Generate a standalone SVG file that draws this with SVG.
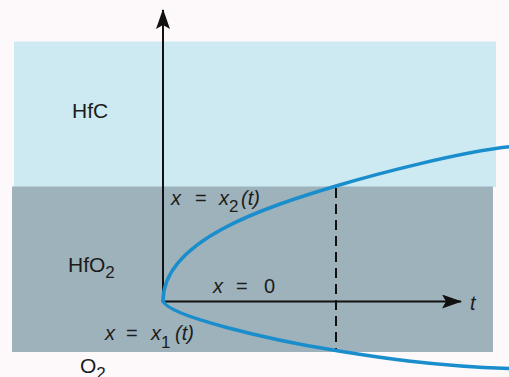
<svg xmlns="http://www.w3.org/2000/svg" width="509" height="377" viewBox="0 0 509 377">
  <style>
    .lbl { font-family: "Liberation Sans", Arial, sans-serif; font-size: 20px; fill: #1c1c1c; }
    .big { font-size: 21px; }
    .it { font-style: italic; }
    .sub { font-size: 17px; }
    .axis { stroke: #111; stroke-width: 2; fill: none; }
    .curve { stroke: #1a8dcc; stroke-width: 3.5; fill: none; stroke-linejoin: round; stroke-linecap: round; }
    .dash { stroke: #111; stroke-width: 2; stroke-dasharray: 10 6; fill: none; }
  </style>
  <defs>
    <marker id="arr" markerWidth="20" markerHeight="14" refX="19" refY="7" orient="auto" markerUnits="userSpaceOnUse">
      <path d="M0,0 L20,7 L0,14 L4,7 Z" fill="#111"/>
    </marker>
  </defs>
  <rect x="0" y="0" width="509" height="377" fill="#fdf9fb"/>
  <g id="hfc-region">
    <rect x="14" y="41.5" width="482" height="145.5" fill="#cdeaf2"/>
  </g>
  <g id="hfo2-region">
    <rect x="12" y="186.5" width="481" height="165.5" fill="#9db2bb"/>
  </g>
  <g id="connectors">
    <line class="dash" x1="336" y1="188" x2="336" y2="351"/>
    <line class="axis" x1="163" y1="301.5" x2="163" y2="10" marker-end="url(#arr)"/>
    <line class="axis" x1="163" y1="301.5" x2="461" y2="301.5" marker-end="url(#arr)"/>
    <path class="curve" d="M163,301 C163,240 266,207 336,186 C376,174 462,151.5 512,146.5"/>
    <path class="curve" d="M163,301 C168,316 270,340 336,350.5 C370,356 430,366 512,368.5"/>
  </g>
  <g id="labels">
    <text class="lbl big" x="72" y="118">HfC</text>
    <text class="lbl big" x="68" y="272">HfO<tspan class="sub" dy="6">2</tspan></text>
    <text class="lbl big" x="80" y="373">O<tspan class="sub" dy="6">2</tspan></text>
    <text class="lbl" y="205"><tspan class="it" x="171">x</tspan><tspan x="195">=</tspan><tspan class="it" x="219">x</tspan><tspan class="sub" x="229" dy="7">2</tspan><tspan class="it" x="241" dy="-7">(t)</tspan></text>
    <text class="lbl" y="293"><tspan class="it" x="213">x</tspan><tspan x="236">=</tspan><tspan x="264">0</tspan></text>
    <text class="lbl" y="340"><tspan class="it" x="105">x</tspan><tspan x="126">=</tspan><tspan class="it" x="151">x</tspan><tspan class="sub" x="161" dy="8">1</tspan><tspan class="it" x="175" dy="-8">(t)</tspan></text>
    <text class="lbl it" x="470" y="310">t</text>
  </g>
</svg>
